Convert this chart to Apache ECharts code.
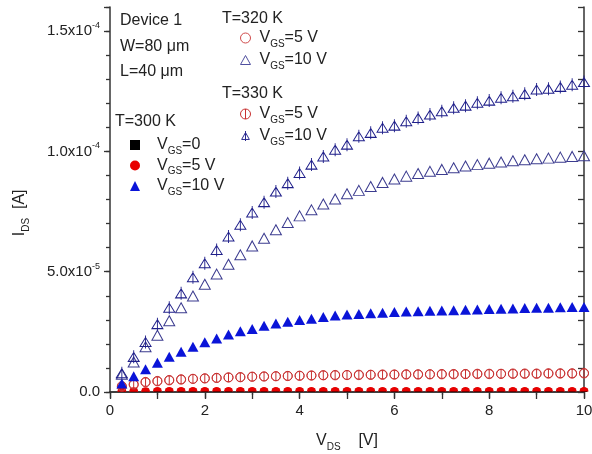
<!DOCTYPE html>
<html>

<head>
    <meta charset="utf-8">
    <title>IDS vs VDS</title>
    <script src="https://cdn.jsdelivr.net/npm/echarts@6/dist/echarts.min.js"></script>
    <style>
        body { margin: 0; background: #fff; }
    </style>
</head>

<body>
    <div id="main" style="width: 592px;height:454px;"></div>
    <script type="text/javascript">

        // V_DS [V]
        var vds = [0.25, 0.5, 0.75, 1, 1.25, 1.5, 1.75, 2, 2.25, 2.5, 2.75, 3, 3.25, 3.5, 3.75, 4, 4.25, 4.5, 4.75, 5,
            5.25, 5.5, 5.75, 6, 6.25, 6.5, 6.75, 7, 7.25, 7.5, 7.75, 8, 8.25, 8.5, 8.75, 9, 9.25, 9.5, 9.75, 10];

        // I_DS in units of 1e-5 A
        var i300_0 = [0, 0, 0, 0, 0, 0, 0, 0, 0, 0, 0, 0, 0, 0, 0, 0, 0, 0, 0, 0,
            0, 0, 0, 0, 0, 0, 0, 0, 0, 0, 0, 0, 0, 0, 0, 0, 0, 0, 0, 0];
        var i300_5 = [0.01, 0.01, 0.01, 0.02, 0.02, 0.02, 0.02, 0.02, 0.02, 0.02, 0.02, 0.02, 0.02, 0.02, 0.02, 0.02, 0.02, 0.02, 0.02, 0.02,
            0.02, 0.02, 0.02, 0.02, 0.02, 0.02, 0.02, 0.02, 0.02, 0.02, 0.02, 0.02, 0.02, 0.02, 0.02, 0.02, 0.02, 0.02, 0.02, 0.02];
        var i300_10 = [0.35, 0.65, 0.95, 1.22, 1.46, 1.67, 1.88, 2.07, 2.22, 2.39, 2.52, 2.62, 2.75, 2.85, 2.92, 2.99, 3.04, 3.12, 3.18, 3.22,
            3.24, 3.27, 3.29, 3.32, 3.35, 3.36, 3.38, 3.39, 3.40, 3.42, 3.43, 3.45, 3.46, 3.47, 3.49, 3.50, 3.50, 3.52, 3.53, 3.53];
        var i320_5 = [0.25, 0.33, 0.40, 0.44, 0.48, 0.51, 0.54, 0.56, 0.58, 0.60, 0.61, 0.63, 0.64, 0.65, 0.66, 0.67, 0.68, 0.69, 0.69, 0.70,
            0.70, 0.71, 0.71, 0.72, 0.72, 0.72, 0.73, 0.73, 0.73, 0.74, 0.74, 0.74, 0.75, 0.75, 0.75, 0.75, 0.76, 0.76, 0.76, 0.77];
        var i320_10 = [0.74, 1.25, 1.88, 2.36, 2.96, 3.50, 3.99, 4.48, 4.90, 5.31, 5.70, 6.07, 6.39, 6.74, 7.04, 7.32, 7.57, 7.81, 8.02, 8.24,
            8.38, 8.54, 8.71, 8.85, 8.97, 9.08, 9.17, 9.25, 9.32, 9.39, 9.45, 9.51, 9.56, 9.61, 9.65, 9.69, 9.72, 9.76, 9.79, 9.82];
        var i330_5 = [0.22, 0.30, 0.42, 0.46, 0.50, 0.53, 0.55, 0.57, 0.59, 0.61, 0.62, 0.64, 0.65, 0.66, 0.67, 0.68, 0.69, 0.70, 0.71, 0.71,
            0.72, 0.72, 0.73, 0.73, 0.74, 0.74, 0.74, 0.75, 0.75, 0.75, 0.76, 0.76, 0.76, 0.77, 0.77, 0.77, 0.78, 0.78, 0.78, 0.79];
        var i330_10 = [0.78, 1.46, 2.08, 2.82, 3.50, 4.10, 4.77, 5.35, 5.90, 6.46, 6.95, 7.46, 7.89, 8.33, 8.68, 9.10, 9.45, 9.79, 10.07, 10.28,
            10.63, 10.77, 10.98, 11.07, 11.25, 11.39, 11.53, 11.67, 11.81, 11.90, 12.02, 12.11, 12.23, 12.29, 12.39, 12.57, 12.60, 12.68, 12.77, 12.88];

        var myChart = echarts.init(document.getElementById('main'));
        var FONT = 'Liberation Sans, Arial, sans-serif';
        var INK = '#222';

        // marker shapes
        var TRI_OPEN = 'path://M5,0 L10,9 L0,9 Z';
        var TRI_BAR = 'path://M5,0 L10,9 L0,9 Z M5,-2 L5,11';
        var CIRC_OPEN = 'path://M10,5 A5,5 0 1 1 0,5 A5,5 0 1 1 10,5 Z';
        var CIRC_BAR = 'path://M10,5 A5,5 0 1 1 0,5 A5,5 0 1 1 10,5 Z M5,0 L5,10';
        var DOME = 'path://M0,5 A5,5 0 0 1 10,5 Z';
        var HALF_SQ = 'path://M0,0 L10,0 L10,5 L0,5 Z';

        function pairs(ys) {
            var out = [];
            for (var i = 0; i < vds.length; i++) out.push([vds[i], ys[i]]);
            return out;
        }

        var labels = {
            's300_0': '{v|V}{s|GS}{v|=0}',
            's300_5': '{v|V}{s|GS}{v|=5 V}',
            's300_10': '{v|V}{s|GS}{v|=10 V}',
            's320_5': '{v|V}{s|GS}{v|=5 V}',
            's320_10': '{v|V}{s|GS}{v|=10 V}',
            's330_5': '{v|V}{s|GS}{v|=5 V}',
            's330_10': '{v|V}{s|GS}{v|=10 V}'
        };

        function legendRich(pad) {
            return {
                p: { width: pad, fontSize: 16, lineHeight: 22 },
                v: { fontSize: 16, lineHeight: 22, color: INK, fontFamily: FONT },
                s: { fontSize: 10, lineHeight: 10, verticalAlign: 'bottom', color: INK, fontFamily: FONT }
            };
        }

        function legendBox(left, top, gap, pad, items) {
            return {
                orient: 'vertical', left: left, top: top, padding: 0,
                itemWidth: 10, itemHeight: 10, itemGap: gap,
                selectedMode: false,
                formatter: function (name) { return '{p| }' + labels[name]; },
                textStyle: { rich: legendRich(pad) },
                data: items
            };
        }

        function yLabel(v) {
            if (v === 0) return '{b|0.0}';
            if (v > 15) return '';
            var a = v * 1e-5;
            var e = Math.floor(Math.log10(a) + 1e-9);
            var m = (a / Math.pow(10, e)).toFixed(1);
            return '{b|' + m + 'x10}{sup|' + e + '}';
        }

        var axisLine = { show: true, lineStyle: { color: '#333', width: 1.5 } };

        function txt(x, y, s) {
            return {
                type: 'text', x: x, y: y,
                style: { text: s, font: '16px ' + FONT, fill: INK, verticalAlign: 'middle' }
            };
        }

        var option = {
            animation: false,
            backgroundColor: '#fff',
            grid: { left: 110, right: 8, top: 7, bottom: 62, outerBoundsMode: 'none' },
            xAxis: [{
                type: 'value', position: 'bottom', min: 0, max: 10, interval: 2,
                axisLine: axisLine,
                axisTick: { length: 6, lineStyle: { color: '#333', width: 1.3 } },
                minorTick: { show: true, splitNumber: 2, length: 3, lineStyle: { color: '#333', width: 1.3 } },
                splitLine: { show: false },
                axisLabel: { fontSize: 15, color: INK, fontFamily: FONT, margin: 11 },
                name: '{b|V}{s|DS}{b|    [V]}',
                nameLocation: 'middle', nameGap: 38,
                nameTextStyle: {
                    rich: {
                        b: { fontSize: 16, lineHeight: 22, color: INK, fontFamily: FONT },
                        s: { fontSize: 10, lineHeight: 10, verticalAlign: 'bottom', color: INK, fontFamily: FONT }
                    }
                }
            }, {
                type: 'value', position: 'top', min: 0, max: 10, interval: 1,
                axisLine: axisLine,
                axisTick: { inside: true, length: 7, lineStyle: { color: '#333', width: 1.3 } },
                splitLine: { show: false },
                axisLabel: { show: false }
            }],
            yAxis: [{
                type: 'value', position: 'left', min: 0, max: 16, interval: 5,
                axisLine: axisLine,
                axisTick: { length: 6, lineStyle: { color: '#333', width: 1.3 } },
                splitLine: { show: false },
                axisLabel: {
                    margin: 10, formatter: yLabel,
                    rich: {
                        b: { fontSize: 15, lineHeight: 20, color: INK, fontFamily: FONT },
                        sup: { fontSize: 9, lineHeight: 10, verticalAlign: 'top', color: INK, fontFamily: FONT }
                    }
                },
                name: '{b|I}{s|DS}{b|  [A]      }',
                nameLocation: 'middle', nameRotate: 90, nameGap: 79,
                nameTextStyle: {
                    rich: {
                        b: { fontSize: 16, lineHeight: 22, color: INK, fontFamily: FONT },
                        s: { fontSize: 10, lineHeight: 10, verticalAlign: 'bottom', color: INK, fontFamily: FONT }
                    }
                }
            }, {
                type: 'value', position: 'left', min: 0, max: 16, interval: 1,
                axisLine: { show: false },
                axisTick: { length: 4, lineStyle: { color: '#333', width: 1.3 } },
                splitLine: { show: false },
                axisLabel: { show: false }
            }, {
                type: 'value', position: 'right', min: 0, max: 16, interval: 1,
                axisLine: axisLine,
                axisTick: { inside: true, length: 6, lineStyle: { color: '#333', width: 1.3 } },
                splitLine: { show: false },
                axisLabel: { show: false }
            }],
            legend: [
                legendBox(130, 137, 1.5, 12, [
                    { name: 's300_0', icon: 'rect', itemStyle: { color: '#000' } },
                    { name: 's300_5', icon: 'circle', itemStyle: { color: '#e80000' } },
                    { name: 's300_10', icon: 'triangle', itemStyle: { color: '#0a14d8' } }
                ]),
                legendBox(240, 30, 3, 4, [
                    { name: 's320_5', icon: CIRC_OPEN, itemStyle: { color: 'transparent', borderColor: '#d04a4a', borderWidth: 1 } },
                    { name: 's320_10', icon: TRI_OPEN, itemStyle: { color: 'transparent', borderColor: '#5050a0', borderWidth: 1 } }
                ]),
                legendBox(240, 106, 3, 4, [
                    { name: 's330_5', icon: CIRC_BAR, itemStyle: { color: 'transparent', borderColor: '#c83030', borderWidth: 1 } },
                    { name: 's330_10', icon: TRI_BAR, itemStyle: { color: 'transparent', borderColor: '#2a2a90', borderWidth: 1 } }
                ])
            ],
            graphic: [
                txt(120, 21, 'Device 1'),
                txt(120, 47, 'W=80 \u03bcm'),
                txt(120, 72, 'L=40 \u03bcm'),
                txt(115, 122, 'T=300 K'),
                txt(222, 19, 'T=320 K'),
                txt(222, 94, 'T=330 K')
            ],
            series: [{
                name: 's300_0', type: 'scatter', data: pairs(i300_0),
                symbol: HALF_SQ, symbolSize: [7, 3.5], symbolOffset: [0, '-50%'],
                itemStyle: { color: '#000', opacity: 1 }
            }, {
                name: 's300_5', type: 'scatter', data: pairs(i300_5),
                symbol: DOME, symbolSize: [9, 4.5], symbolOffset: [0, '-50%'],
                itemStyle: { color: '#e80000', opacity: 1 }
            }, {
                name: 's320_5', type: 'scatter', data: pairs(i320_5),
                symbol: CIRC_OPEN, symbolSize: 9,
                itemStyle: { color: 'transparent', borderColor: '#d04a4a', borderWidth: 1, opacity: 1 }
            }, {
                name: 's330_5', type: 'scatter', data: pairs(i330_5),
                symbol: CIRC_BAR, symbolSize: 9,
                itemStyle: { color: 'transparent', borderColor: '#c83030', borderWidth: 1, opacity: 1 }
            }, {
                name: 's300_10', type: 'scatter', data: pairs(i300_10),
                symbol: 'triangle', symbolSize: [11, 10],
                itemStyle: { color: '#0a14d8', opacity: 1 }
            }, {
                name: 's320_10', type: 'scatter', data: pairs(i320_10),
                symbol: TRI_OPEN, symbolSize: [11, 10],
                itemStyle: { color: 'transparent', borderColor: '#3b3b8f', borderWidth: 1, opacity: 1 }
            }, {
                name: 's330_10', type: 'scatter', data: pairs(i330_10),
                symbol: TRI_BAR, symbolSize: [11, 13],
                itemStyle: { color: 'transparent', borderColor: '#1f1f8a', borderWidth: 1, opacity: 1 }
            }]
        };
        myChart.setOption(option);
    </script>
</body>

</html>
